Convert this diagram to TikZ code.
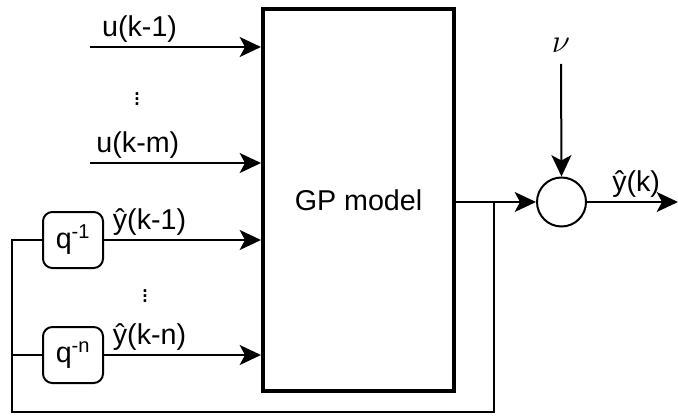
\documentclass[tikz,border=0pt]{standalone}
\usepackage{fontspec}
\setmainfont{Liberation Sans}
\usetikzlibrary{arrows.meta}

\begin{document}
\begin{tikzpicture}[
  x=0.75pt, y=-0.75pt,
  line width=1.5pt,
  block/.style={draw, line width=3pt, minimum width=191*0.75pt, minimum height=382*0.75pt, inner sep=0pt},
  delay/.style={draw, rounded corners=7pt, minimum width=60*0.75pt, minimum height=56*0.75pt, inner sep=0pt},
  sum/.style={draw, circle, minimum size=49*0.75pt, inner sep=0pt},
  arrow/.style={-{Stealth[length=16pt, width=15pt, inset=4pt]}},
  lbl/.style={font=\fontsize{21.5}{24}\selectfont, inner sep=0pt},
  dots/.style={font=\fontsize{20}{22}\selectfont, inner sep=0pt}
]
\useasboundingbox (0,0) rectangle (678,417);
% GP block
\node[block, lbl] (gp) at (358.5,200) {GP model};
% Delay blocks
\node[delay, lbl] (q1) at (73,240) {q\textsuperscript{-1}};
\node[delay, lbl] (qn) at (73,355) {q\textsuperscript{-n}};
% Summation
\node[sum] (s) at (561.5,202) {};
\node[inner sep=0pt, font=\fontsize{23}{25}\selectfont] (nu) at (561,45) {$\nu$};
% Free ends
\coordinate (u1) at (90,47);
\coordinate (um) at (90,163);
\coordinate (out) at (678,202);
\coordinate (j) at (494,202);
\coordinate (fb) at (12,412);
% Inputs
\draw[arrow] (u1) -- (u1 -| gp.west) node[lbl, above=2.5pt, pos=0.29] {u(k-1)};
\node[dots] (dotsu) at (137,95) {\vdots};
\draw[arrow] (um) -- (um -| gp.west) node[lbl, above=2.5pt, pos=0.28] {u(k-m)};
\draw[arrow] (q1.east) -- (q1 -| gp.west) node[lbl, above=2.5pt, pos=0.29] {ŷ(k-1)};
\node[dots] (dotsy) at (145,292) {\vdots};
\draw[arrow] (qn.east) -- (qn -| gp.west) node[lbl, above=2.5pt, pos=0.29] {ŷ(k-n)};
% Output and noise
\draw[arrow] (gp.east |- s) -- (s.west);
\draw[arrow] (nu) ++(0,19) -- (s.north);
\draw[arrow] (s.east) -- (out) node[lbl, above=3pt, pos=0.54] {ŷ(k)};
% Feedback
\draw (j) |- (fb) |- (q1.west);
\draw (fb |- qn) -- (qn.west);
\end{tikzpicture}
\end{document}
